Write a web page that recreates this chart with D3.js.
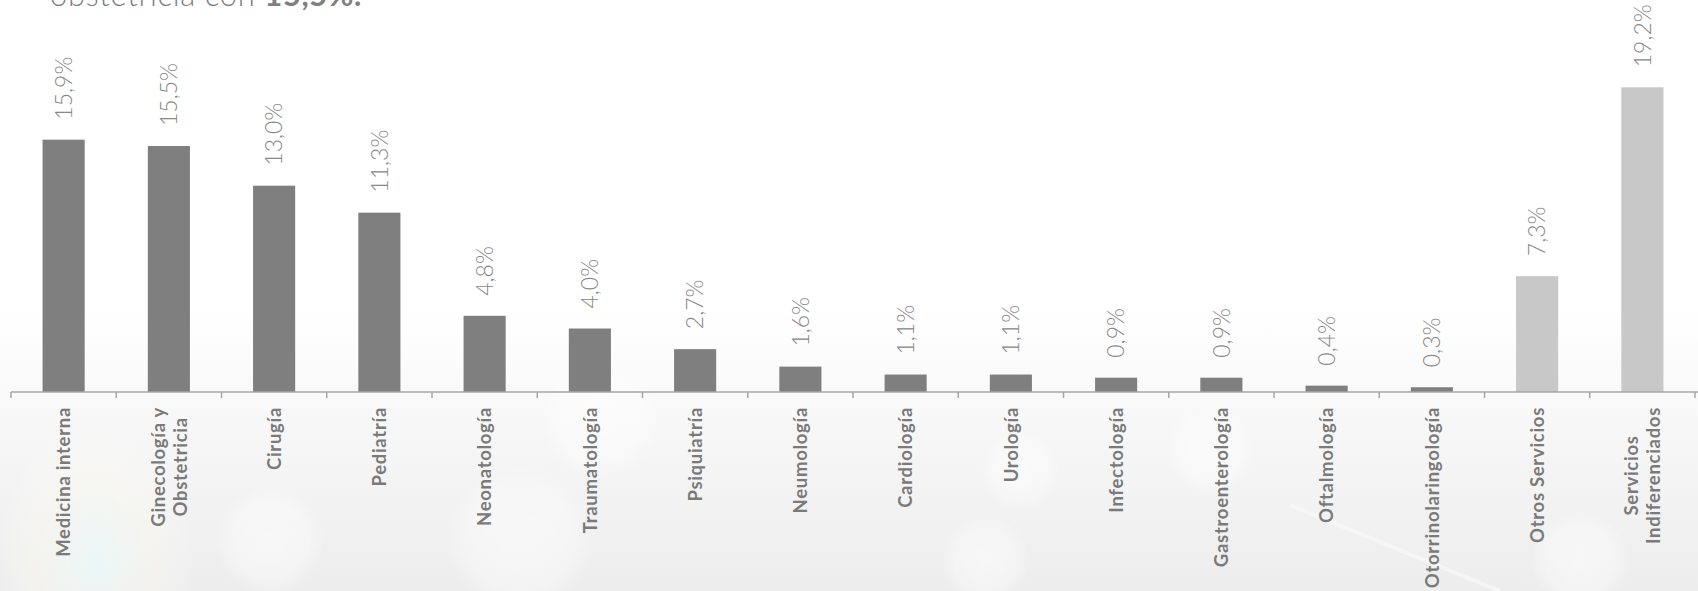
<!DOCTYPE html>
<html>
<head>
<meta charset="utf-8">
<script src="https://cdn.jsdelivr.net/npm/d3@7"></script>
<style>
  html, body { margin: 0; padding: 0; background: #fff; overflow: hidden; }
  svg { display: block; font-family: Lato, "Open Sans", sans-serif; }
</style>
</head>
<body>
<svg id="chart" width="1698" height="591"></svg>
<script>
// Data
var categorias = ["Medicina interna", "Ginecología y\nObstetricia", "Cirugía", "Pediatría",
                  "Neonatología", "Traumatología", "Psiquiatría", "Neumología", "Cardiología",
                  "Urología", "Infectología", "Gastroenterología", "Oftalmología",
                  "Otorrinolaringología", "Otros Servicios", "Servicios\nIndiferenciados"];
var valores = [15.9, 15.5, 13.0, 11.3, 4.8, 4.0, 2.7, 1.6, 1.1, 1.1, 0.9, 0.9, 0.4, 0.3, 7.3, 19.2];
var agrupados = ["Otros Servicios", "Servicios\nIndiferenciados"]; // drawn lighter
var textoSuperior = ["obstetricia con ", "15,5%."];

var svg = d3.select("#chart");
var W = 1698, H = 591;
var axisY = 392;

// Background: white fading to light grey, with a few soft glows
var defs = svg.append("defs");
var bg = defs.append("linearGradient").attr("id", "bg").attr("x1", 0).attr("y1", 0).attr("x2", 0).attr("y2", 1);
bg.append("stop").attr("offset", "0%").attr("stop-color", "#ffffff");
bg.append("stop").attr("offset", "52%").attr("stop-color", "#ffffff");
bg.append("stop").attr("offset", "78%").attr("stop-color", "#f5f5f5");
bg.append("stop").attr("offset", "100%").attr("stop-color", "#ededed");
var glow = defs.append("radialGradient").attr("id", "glow");
glow.append("stop").attr("offset", "0%").attr("stop-color", "#ffffff").attr("stop-opacity", 0.5);
glow.append("stop").attr("offset", "70%").attr("stop-color", "#ffffff").attr("stop-opacity", 0.35);
glow.append("stop").attr("offset", "100%").attr("stop-color", "#ffffff").attr("stop-opacity", 0);
var tint = defs.append("radialGradient").attr("id", "tint");
tint.append("stop").attr("offset", "0%").attr("stop-color", "#eaf8fb").attr("stop-opacity", 0.8);
tint.append("stop").attr("offset", "60%").attr("stop-color", "#fbf9ee").attr("stop-opacity", 0.4);
tint.append("stop").attr("offset", "100%").attr("stop-color", "#ffffff").attr("stop-opacity", 0);

svg.append("rect").attr("width", W).attr("height", H).attr("fill", "url(#bg)");
svg.append("ellipse").attr("cx", 95).attr("cy", 560).attr("rx", 100).attr("ry", 140).attr("fill", "url(#tint)");
[[270, 540, 55], [520, 540, 75], [600, 420, 60], [985, 560, 45], [1020, 470, 40], [1210, 450, 45], [1580, 560, 50]].forEach(function(c) {
  svg.append("circle").attr("cx", c[0]).attr("cy", c[1]).attr("r", c[2]).attr("fill", "url(#glow)");
});
svg.append("line").attr("x1", 1290).attr("y1", 505).attr("x2", 1500).attr("y2", 591)
   .attr("stroke", "#ffffff").attr("stroke-width", 4).attr("opacity", 0.45);

// Scales
var x = d3.scaleBand().domain(categorias).range([11, 1695]).padding(0);
var y = d3.scaleLinear().domain([0, 20]).range([axisY, axisY - 20 * 15.87]);
var barW = x.bandwidth() * 0.4;

// Top text (cut-off paragraph above the chart)
var encabezado = svg.append("text").attr("x", 50).attr("y", 6)
   .attr("font-size", 31).attr("font-weight", 300).attr("fill", "#808080")
   .attr("letter-spacing", 0.6);
encabezado.append("tspan").text(textoSuperior[0]);
encabezado.append("tspan").attr("font-weight", 700).text(textoSuperior[1]);

// Bars
svg.selectAll("rect.bar")
   .data(valores)
   .enter()
   .append("rect")
   .attr("class", "bar")
   .attr("x", function(d, i) { return x(categorias[i]) + (x.bandwidth() - barW) / 2; })
   .attr("y", function(d) { return y(d); })
   .attr("width", barW)
   .attr("height", function(d) { return axisY - y(d); })
   .attr("fill", function(d, i) { return agrupados.indexOf(categorias[i]) >= 0 ? "#c8c8c8" : "#7f7f7f"; });

// Value labels
svg.selectAll("text.valor")
   .data(valores)
   .enter()
   .append("text")
   .attr("class", "valor")
   .attr("transform", function(d, i) {
     return "translate(" + (x(categorias[i]) + x.bandwidth() / 2) + "," + (y(d) - 20) + ") rotate(-90)";
   })
   .attr("dy", "0.36em")
   .attr("font-size", 23)
   .attr("font-weight", 300)
   .attr("fill", "#888888")
   .text(function(d) { return d.toFixed(1).replace(".", ",") + "%"; });

// Axis line and boundary ticks
svg.append("line").attr("x1", 11).attr("x2", 1698).attr("y1", axisY).attr("y2", axisY)
   .attr("stroke", "#a6a6a6").attr("stroke-width", 1.5);
var bordes = categorias.map(function(c) { return x(c); }).concat([x.range()[1]]);
svg.selectAll("line.tick")
   .data(bordes)
   .enter()
   .append("line")
   .attr("class", "tick")
   .attr("x1", function(d) { return d; }).attr("x2", function(d) { return d; })
   .attr("y1", axisY).attr("y2", axisY + 6)
   .attr("stroke", "#a6a6a6").attr("stroke-width", 1.5);

// Category labels (rotated, top-aligned block, lines centred)
var labelTop = 407, lineGap = 22;
categorias.forEach(function(c) {
  var lineas = c.split("\n");
  var g = svg.append("g")
     .attr("transform", "translate(" + (x(c) + x.bandwidth() / 2) + "," + labelTop + ") rotate(-90)");
  var t = g.selectAll("text").data(lineas).enter().append("text")
     .attr("font-size", 18.5)
     .attr("font-weight", 700)
     .attr("letter-spacing", 0.7)
     .attr("fill", "#7a7a7a")
     .attr("text-anchor", "middle")
     .attr("y", function(d, i) { return (i - (lineas.length - 1) / 2) * lineGap; })
     .attr("dy", "0.36em")
     .text(function(d) { return d; });
  var L = d3.max(t.nodes(), function(n) { return n.getComputedTextLength(); });
  t.attr("x", -L / 2);
});
</script>
</body>
</html>
